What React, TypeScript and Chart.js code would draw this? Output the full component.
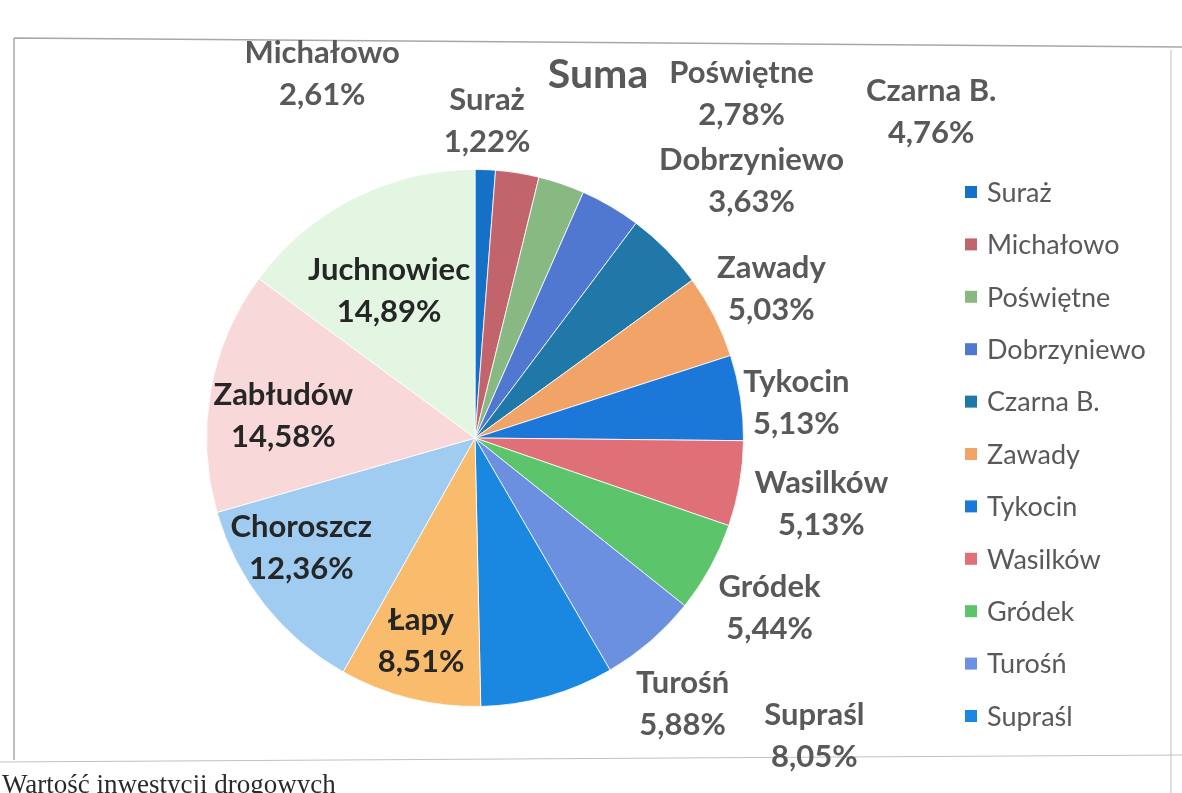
import React, { useEffect, useRef } from "react";
import { Chart, registerables } from "chart.js";

Chart.register(...registerables);

const categories = [
  "Suraż", "Michałowo", "Poświętne", "Dobrzyniewo", "Czarna B.", "Zawady",
  "Tykocin", "Wasilków", "Gródek", "Turośń", "Supraśl", "Łapy",
  "Choroszcz", "Zabłudów", "Juchnowiec",
];
const shares = [1.22, 2.61, 2.78, 3.63, 4.76, 5.03, 5.13, 5.13, 5.44, 5.88, 8.05, 8.51, 12.36, 14.58, 14.89];
const percentLabels = ["1,22%", "2,61%", "2,78%", "3,63%", "4,76%", "5,03%", "5,13%", "5,13%", "5,44%", "5,88%", "8,05%", "8,51%", "12,36%", "14,58%", "14,89%"];
const sliceColors = [
  "#1570c8", "#c2646c", "#88b982", "#5078d0", "#1f78a8", "#f2a468",
  "#1c78d8", "#e07078", "#5cc46a", "#6c90e0", "#1a88e0", "#f8bc6c",
  "#a0ccf2", "#f8d8d8", "#e2f6e2",
];
const titleText = "Suma";
const captionText = "Wartość inwestycji drogowych";
const legendCount = 11;

// layout: label anchors relative to pie centre, in units of the outer radius
const labelLayout: [number, number, boolean][] = [
  [0.045, -1.257, false],
  [-0.569, -1.435, false],
  [0.993, -1.361, false],
  [1.030, -1.034, false],
  [1.699, -1.294, false],
  [1.104, -0.632, false],
  [1.197, -0.208, false],
  [1.290, 0.167, false],
  [1.097, 0.554, false],
  [0.773, 0.911, false],
  [1.264, 1.030, false],
  [-0.201, 0.677, true],
  [-0.647, 0.331, true],
  [-0.714, -0.160, true],
  [-0.320, -0.625, true],
];

const overlay = {
  id: "overlay",
  afterDraw(chart: any) {
    const ctx = chart.ctx as CanvasRenderingContext2D;
    const arc = chart.getDatasetMeta(0).data[0];
    const cx = arc.x, cy = arc.y, r = arc.outerRadius;
    ctx.save();

    // frame
    ctx.strokeStyle = "#a8a8a8";
    ctx.lineWidth = 1.5;
    ctx.beginPath();
    ctx.moveTo(14, 38); ctx.lineTo(1182, 47);
    ctx.moveTo(14, 38); ctx.lineTo(14, 760);
    ctx.stroke();
    ctx.strokeStyle = "#c0c0c0";
    ctx.lineWidth = 1;
    ctx.beginPath();
    ctx.moveTo(1171, 50); ctx.lineTo(1171, 793);
    ctx.moveTo(0, 762); ctx.lineTo(1182, 755);
    ctx.stroke();

    // title
    ctx.fillStyle = "#595959";
    ctx.font = "bold 41px Lato";
    ctx.textAlign = "center";
    ctx.textBaseline = "middle";
    ctx.fillText(titleText, 598, 75);

    // data labels
    ctx.font = "bold 31px Lato";
    categories.forEach((name, i) => {
      const [fx, fy, inside] = labelLayout[i];
      const x = cx + fx * r;
      const y = cy + fy * r;
      ctx.fillStyle = inside ? "#262626" : "#595959";
      ctx.fillText(name, x, y);
      ctx.fillText(percentLabels[i], x, y + 42);
    });

    // legend
    ctx.font = "27px Lato";
    ctx.textAlign = "left";
    for (let i = 0; i < legendCount; i++) {
      const y = 192 + i * 52.4;
      ctx.fillStyle = sliceColors[i];
      ctx.fillRect(965, y - 6, 12, 12);
      ctx.fillStyle = "#595959";
      ctx.fillText(categories[i], 987, y + 1);
    }

    // caption
    ctx.fillStyle = "#2a2a2a";
    ctx.font = "27px 'Liberation Serif'";
    ctx.textBaseline = "alphabetic";
    ctx.fillText(captionText, 2, 793);
    ctx.restore();
  },
};

export default function App() {
  const ref = useRef<HTMLCanvasElement>(null);
  useEffect(() => {
    if (!ref.current) return;
    const chart = new Chart(ref.current, {
      type: "pie",
      data: {
        labels: categories,
        datasets: [{
          data: shares,
          backgroundColor: sliceColors,
          borderColor: "rgba(255,255,255,0.8)",
          borderWidth: 1,
        }],
      },
      options: {
        animation: false,
        responsive: false,
        devicePixelRatio: 1,
        layout: { padding: { left: 206, right: 438, top: 169, bottom: 86 } },
        plugins: {
          legend: { display: false },
          tooltip: { enabled: false },
          title: { display: false },
        },
      },
      plugins: [overlay],
    });
    return () => chart.destroy();
  }, []);
  return (
    <div style={{ position: "absolute", left: 0, top: 0, width: 1182, height: 793, overflow: "hidden", background: "#fff" }}>
      <canvas ref={ref} width={1182} height={793} style={{ width: 1182, height: 793 }} />
    </div>
  );
}
